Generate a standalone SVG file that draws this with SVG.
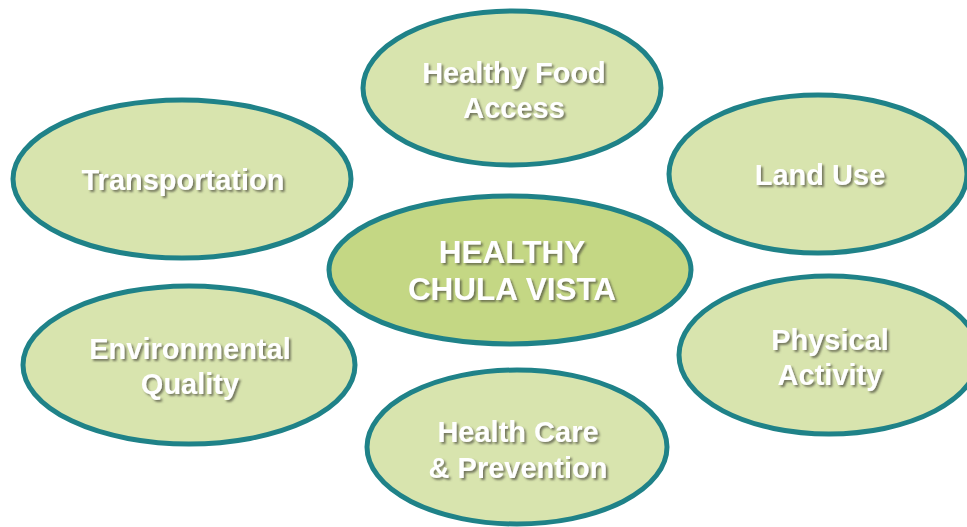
<svg xmlns="http://www.w3.org/2000/svg" width="967" height="527" viewBox="0 0 967 527">
<defs>
<style>
.node{fill:#d8e4ae;stroke:#1f8288;stroke-width:5}
.core{fill:#c4d784;stroke:#1f8288;stroke-width:5}
.t{font-family:"Liberation Sans",Arial,sans-serif;font-weight:bold;font-size:29px;fill:#ffffff;text-anchor:middle;filter:url(#sh)}
.tc{font-size:31.5px}
</style>
<filter id="sh" x="-10%" y="-30%" width="120%" height="160%">
<feDropShadow dx="2" dy="2" stdDeviation="1" flood-color="#4a4a3a" flood-opacity="0.7"/>
</filter>
</defs>
<rect width="967" height="527" fill="#ffffff"/>
<g id="connectors"></g>
<g id="food">
<ellipse class="node" cx="512" cy="88" rx="149" ry="77"/>
<text class="t" x="514" y="83">Healthy Food</text>
<text class="t" x="514" y="118">Access</text>
</g>
<g id="transportation">
<ellipse class="node" cx="182" cy="179" rx="169" ry="79"/>
<text class="t" x="183" y="190">Transportation</text>
</g>
<g id="landuse">
<ellipse class="node" cx="818" cy="174" rx="149" ry="79"/>
<text class="t" x="820" y="185">Land Use</text>
</g>
<g id="center">
<ellipse class="core" cx="510" cy="270" rx="181" ry="74"/>
<text class="t tc" x="512" y="263">HEALTHY</text>
<text class="t tc" x="512" y="300">CHULA VISTA</text>
</g>
<g id="environmental">
<ellipse class="node" cx="189" cy="365" rx="166" ry="79"/>
<text class="t" x="190" y="359">Environmental</text>
<text class="t" x="190" y="394">Quality</text>
</g>
<g id="physical">
<ellipse class="node" cx="829" cy="355" rx="150" ry="79"/>
<text class="t" x="830" y="350">Physical</text>
<text class="t" x="830" y="385">Activity</text>
</g>
<g id="healthcare">
<ellipse class="node" cx="517" cy="447" rx="150" ry="77"/>
<text class="t" x="518" y="442">Health Care</text>
<text class="t" x="518" y="478">&amp; Prevention</text>
</g>
</svg>
